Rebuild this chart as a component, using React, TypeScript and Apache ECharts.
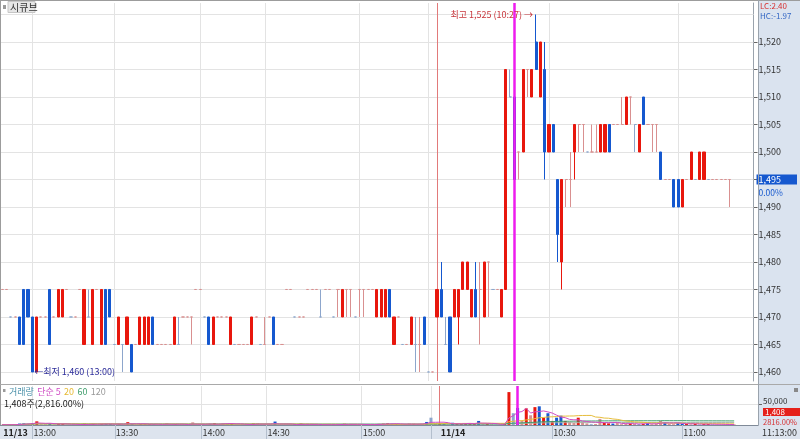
import React, { useEffect, useRef } from 'react';
import * as echarts from 'echarts';

const FONT = '"Noto Sans CJK KR", "Noto Sans", sans-serif';

// [open, close, low, high] — 11/13 session, one candle per traded minute
const day1Candles: number[][] = [
  [1475,1475,1475,1475],[1475,1475,1475,1475],[1470,1470,1470,1470],[1470,1470,1470,1470],
  [1470,1465,1465,1470],[1475,1465,1465,1475],[1475,1470,1470,1475],[1470,1460,1460,1470],
  [1460,1470,1460,1470],[1470,1470,1470,1470],[1470,1470,1470,1470],[1475,1465,1465,1475],
  [1470,1470,1470,1470],[1470,1475,1470,1475],[1470,1475,1470,1475],[1475,1475,1475,1475],
  [1470,1470,1470,1470],[1470,1470,1470,1470],[1475,1475,1475,1475],[1465,1475,1465,1475],
  [1470,1470,1470,1475],[1465,1475,1465,1475],[1475,1475,1475,1475],[1465,1475,1465,1475],
  [1475,1465,1465,1475],[1475,1470,1470,1475],[1465,1465,1465,1465],[1465,1470,1465,1470],
  [1465,1465,1460,1465],[1465,1470,1465,1470],[1465,1460,1460,1465],[1465,1465,1465,1465],
  [1465,1470,1465,1470],[1465,1470,1465,1470],[1465,1470,1465,1470],[1470,1465,1465,1470],
  [1465,1465,1465,1465],[1465,1465,1465,1465],[1465,1465,1465,1465],[1465,1465,1465,1465],
  [1465,1470,1465,1470],[1465,1465,1465,1470],[1470,1470,1470,1470],[1470,1470,1470,1470],
  [1470,1470,1465,1470],[1475,1475,1475,1475],[1475,1475,1475,1475],[1470,1470,1470,1470],
  [1470,1465,1465,1470],[1465,1470,1465,1470],[1470,1470,1470,1470],[1470,1470,1470,1470],
  [1470,1470,1470,1470],[1465,1470,1465,1470],[1465,1465,1465,1465],[1465,1465,1465,1465],
  [1465,1465,1465,1465],[1465,1465,1465,1465],[1465,1470,1465,1470],[1470,1470,1470,1470],
  [1465,1465,1465,1465],[1465,1465,1465,1470],[1470,1470,1470,1470],[1470,1465,1465,1470],
  [1465,1465,1465,1465],[1465,1465,1465,1465],[1475,1475,1475,1475],[1475,1475,1475,1475],
  [1470,1470,1470,1470],[1470,1470,1470,1470],[1470,1470,1470,1470],[1475,1475,1475,1475],
  [1475,1475,1475,1475],[1475,1475,1475,1475],[1470,1470,1470,1475],[1475,1475,1475,1475],
  [1475,1475,1475,1475],[1470,1470,1470,1470],[1475,1475,1470,1475],[1470,1475,1470,1475],
  [1475,1475,1470,1475],[1475,1475,1470,1475],[1470,1470,1470,1470],[1475,1475,1470,1475],
  [1475,1475,1470,1475],[1475,1475,1475,1475],[1475,1475,1475,1475],[1470,1475,1470,1475],
  [1470,1475,1470,1475],[1470,1475,1470,1475],[1475,1470,1470,1475],[1465,1470,1465,1470],
  [1470,1470,1470,1470],[1465,1465,1465,1465],[1465,1465,1465,1465],[1465,1470,1465,1470],
  [1465,1465,1460,1470],[1465,1465,1460,1470],[1470,1465,1465,1470],[1460,1460,1460,1460],
  [1460,1460,1460,1460],
];

// [open, close, low, high] — 11/14 session
const day2Candles: number[][] = [
  [1470,1475,1470,1475],[1475,1470,1470,1480],[1465,1465,1465,1470],[1470,1460,1460,1470],
  [1470,1475,1470,1475],[1470,1475,1465,1475],[1475,1480,1475,1480],[1475,1480,1475,1480],
  [1470,1475,1470,1475],[1475,1470,1470,1480],[1475,1475,1465,1480],[1470,1480,1470,1480],
  [1480,1480,1470,1480],[1475,1475,1475,1475],[1475,1475,1475,1475],[1470,1475,1470,1475],
  [1475,1515,1475,1515],[1510,1510,1510,1515],[1510,1495,1495,1510],[1500,1500,1495,1500],
  [1500,1515,1500,1515],[1515,1515,1510,1515],[1510,1515,1510,1515],[1520,1515,1515,1525],
  [1510,1520,1510,1520],[1515,1500,1495,1520],[1500,1505,1500,1505],[1505,1500,1500,1505],
  [1495,1485,1480,1495],[1480,1495,1475,1495],[1495,1495,1490,1495],[1495,1495,1490,1500],
  [1500,1505,1495,1505],[1505,1505,1500,1505],[1505,1505,1500,1505],[1500,1500,1500,1500],
  [1500,1500,1500,1505],[1500,1500,1500,1505],[1500,1505,1500,1505],[1500,1505,1500,1505],
  [1505,1500,1500,1505],[1505,1505,1505,1505],[1505,1505,1505,1505],[1505,1505,1505,1510],
  [1505,1510,1505,1510],[1510,1510,1505,1510],[1505,1505,1500,1505],[1500,1505,1500,1505],
  [1510,1505,1505,1510],[1505,1505,1505,1505],[1505,1505,1500,1505],[1505,1505,1500,1505],
  [1500,1495,1495,1500],[1495,1495,1495,1495],[1495,1495,1495,1495],[1495,1490,1490,1495],
  [1495,1490,1490,1495],[1490,1495,1490,1495],[1495,1495,1495,1495],[1495,1500,1495,1500],
  [1495,1495,1495,1495],[1495,1500,1495,1500],[1495,1500,1495,1500],[1495,1495,1495,1495],
  [1495,1495,1495,1495],[1495,1495,1495,1495],[1495,1495,1495,1495],[1495,1495,1495,1495],
  [1495,1495,1490,1495],
];

const day1Volumes: number[] = [
  800,600,900,700,3500,4200,3000,5200,9000,1800,1500,4000,1200,3800,3200,900,700,800,600,3600,
  1400,3000,700,2800,3300,2600,800,2400,1500,7000,2500,700,2600,2200,2400,2300,600,700,4500,800,
  2600,1200,800,700,6500,900,800,900,2800,4800,700,4200,3800,4600,800,700,600,900,4000,4500,
  800,1300,900,8500,700,800,900,700,800,4800,700,900,600,800,1200,700,900,800,1500,3200,
  1400,1300,700,1200,1400,800,700,2800,3400,4200,3000,2600,800,700,3800,2900,2200,2600,7500,18000,
  3000,
];
const day2Volumes: number[] = [
  3500,2500,1200,5500,3000,2600,5000,3500,2800,10000,2000,3500,1500,800,900,2500,81000,29000,42000,11000,
  41000,24000,44000,46000,18000,29000,10000,18000,23000,10000,8000,5000,18000,8000,4000,2000,2500,15000,5000,4000,
  3500,5000,2000,2500,4000,3000,2500,3000,4500,2000,3000,10000,7000,2500,2000,5000,3000,3500,1500,2500,
  1200,2800,2500,1500,1200,1000,1400,1100,1408,
];

const SLOT_COUNT = 175;
const gridLevels = [1460, 1465, 1470, 1475, 1480, 1485, 1490, 1495, 1500, 1505, 1510, 1515, 1520, 1525];
const priceLabels = [1460, 1465, 1470, 1475, 1480, 1485, 1490, 1495, 1500, 1505, 1510, 1515, 1520];
const gridSlots = [7, 26, 46, 61, 83, 99, 127, 157];
const labelSlots = [0, 7, 26, 46, 61, 83, 101, 127, 157];
const labelTexts = ['11/13', '13:00', '13:30', '14:00', '14:30', '15:00', '11/14', '10:30', '11:00'];
const dateLabelSlots = [0, 101];
const volumeLevels = [50000];
const maPeriods = [5, 20, 60, 120];
const daySplitSlot = 101;
const cursorSlot = 119;
const highMark = { slot: 124, value: 1525, time: '10:27' };
const lowMark = { slot: 7, value: 1460, time: '13:00' };

const RED = '#e8170d';
const BLUE = '#1558cf';
const LRED = '#d99090';
const LBLUE = '#8da6cc';
const PINK = '#e27a7a';
const MAGENTA = '#ee1cee';
const GRID = '#e3e3e3';
const MA_COLORS = ['#d04cc4', '#e6bd3c', '#3f9e6c', '#a8b4a8'];

const fmt = (v: number) => v.toLocaleString('en-US');

export default function App() {
  const ref = useRef<HTMLDivElement>(null);
  useEffect(() => {
    const el = ref.current!;
    const chart = echarts.init(el, undefined, { renderer: 'svg' });
    const candles = [...day1Candles, ...day2Candles];
    const volumes = [...day1Volumes, ...day2Volumes];
    const cats = Array.from({ length: SLOT_COUNT }, (_, i) => String(i));
    const colorOf = (i: number) => {
      const [o, c] = candles[i];
      const prev = i > 0 ? candles[i - 1][1] : c;
      if (c > o) return RED;
      if (c < o) return BLUE;
      return c >= prev ? LRED : LBLUE;
    };
    const candleData = candles.map((c, i) => {
      const col = colorOf(i);
      return { value: c, itemStyle: { color: col, color0: col, borderColor: col, borderColor0: col, borderColorDoji: col } };
    });
    const volData = volumes.map((v, i) => ({ value: v, itemStyle: { color: colorOf(i) } }));
    const ma = (n: number) => volumes.map((_, i) => {
      const s = Math.max(0, i - n + 1);
      const arr = volumes.slice(s, i + 1);
      return arr.reduce((a, b) => a + b, 0) / arr.length;
    });
    const labelMap = new Map<number, string>(labelSlots.map((s, i) => [s, labelTexts[i]]));
    const tickSet = new Set<number>([...gridSlots]);
    const lastClose = candles[candles.length - 1][1];
    const lastVol = volumes[volumes.length - 1];
    const pMin = 1458.36, pMax = 1527.09;
    const gridLineItem = (key: 'xAxis' | 'yAxis', v: number) => ({ [key]: v, lineStyle: { color: GRID, width: 1, type: 'solid' } });
    const splitItem = () => ({ xAxis: daySplitSlot, lineStyle: { color: PINK, width: 1, type: 'solid' } });
    const cursorLine = () => ({
      silent: true, symbol: ['none', 'none'], label: { show: false },
      emphasis: { disabled: true },
      data: [{ xAxis: cursorSlot, lineStyle: { color: MAGENTA, width: 2.5, type: 'solid' } }],
    });

    const option: any = {
      animation: false,
      textStyle: { fontFamily: FONT },
      grid: [
        { left: 0, right: 42, top: 3, height: 378 },
        { left: 0, right: 42, top: 386, height: 39 },
      ],
      xAxis: [
        { type: 'category', gridIndex: 0, data: cats, boundaryGap: true, show: false },
        {
          type: 'category', gridIndex: 1, data: cats, boundaryGap: true,
          axisLine: { show: true, lineStyle: { color: '#7f8a98' } },
          axisTick: { show: true, interval: (idx: number) => tickSet.has(idx), alignWithLabel: true, length: 14, lineStyle: { color: '#b4bfcd' } },
          axisLabel: {
            interval: (idx: number) => labelMap.has(idx),
            formatter: (v: string) => {
              const k = Number(v);
              const t = labelMap.get(k) ?? '';
              return dateLabelSlots.includes(k) ? `{b|${t}}` : `{n|${t}}`;
            },
            align: 'left', margin: 3, padding: [0, 0, 0, 1],
            rich: {
              b: { fontSize: 9, fontWeight: 'bold', color: '#222', fontFamily: FONT },
              n: { fontSize: 9, color: '#333', fontFamily: FONT },
            },
          },
          splitLine: { show: false },
        },
      ],
      yAxis: [
        {
          type: 'value', gridIndex: 0, position: 'right', min: pMin, max: pMax,
          axisLine: { show: true, lineStyle: { color: '#9aa3ad' } },
          axisTick: { show: true, customValues: priceLabels, length: 4, lineStyle: { color: '#666' } },
          axisLabel: { customValues: priceLabels, formatter: (v: number) => fmt(v), fontSize: 9, color: '#333', margin: 5, fontFamily: FONT },
          splitLine: { show: false },
        },
        {
          type: 'value', gridIndex: 0, position: 'right', min: pMin, max: pMax,
          axisLine: { show: false }, axisTick: { show: false }, splitLine: { show: false },
          axisLabel: {
            customValues: [lastClose], formatter: (v: number) => fmt(v), fontSize: 9, lineHeight: 10, color: '#fff',
            backgroundColor: BLUE, padding: [0, 16, 0, 2], margin: 3, fontFamily: FONT,
          },
        },
        {
          type: 'value', gridIndex: 0, position: 'right', min: pMin, max: pMax,
          axisLine: { show: false }, axisTick: { show: false }, splitLine: { show: false },
          axisLabel: {
            customValues: [lastClose], formatter: () => '0.00%', fontSize: 8.5, lineHeight: 9, color: BLUE,
            verticalAlign: 'top', padding: [8, 0, 0, 0], margin: 5, fontFamily: FONT,
          },
        },
        {
          type: 'value', gridIndex: 1, position: 'right', min: 0, max: 96000,
          axisLine: { show: true, lineStyle: { color: '#9aa3ad' } },
          axisTick: { show: true, customValues: volumeLevels, length: 4, lineStyle: { color: '#666' } },
          axisLabel: { customValues: volumeLevels, formatter: (v: number) => fmt(v), fontSize: 8, color: '#333', margin: 5, fontFamily: FONT, verticalAlign: 'bottom', lineHeight: 8 },
          splitLine: { show: false },
        },
      ],
      series: [
        {
          type: 'line', xAxisIndex: 0, yAxisIndex: 0, data: [], z: 1, silent: true,
          markLine: {
            silent: true, symbol: ['none', 'none'], z: 1, label: { show: false },
            emphasis: { disabled: true },
            data: [
              ...gridLevels.map((v) => gridLineItem('yAxis', v)),
              ...gridSlots.map((s) => gridLineItem('xAxis', s)),
              splitItem(),
            ],
          },
        },
        {
          type: 'line', xAxisIndex: 1, yAxisIndex: 3, data: [], z: 1, silent: true,
          markLine: {
            silent: true, symbol: ['none', 'none'], z: 1, label: { show: false },
            emphasis: { disabled: true },
            data: [
              ...volumeLevels.map((v) => gridLineItem('yAxis', v)),
              ...gridSlots.map((s) => gridLineItem('xAxis', s)),
              splitItem(),
            ],
          },
        },
        {
          type: 'candlestick', xAxisIndex: 0, yAxisIndex: 0, data: candleData, barWidth: 2.6, z: 3,
          itemStyle: { borderWidth: 1 },
          markLine: cursorLine(),
          markPoint: {
            silent: true, symbol: 'circle', symbolSize: 0,
            data: [
              {
                coord: [highMark.slot, highMark.value],
                label: { show: true, position: 'left', distance: 3, formatter: `최고 ${fmt(highMark.value)} (${highMark.time}) →`, color: '#c8363c', fontSize: 9, fontFamily: FONT },
              },
              {
                coord: [lowMark.slot, lowMark.value],
                label: { show: true, position: 'right', distance: 2, formatter: `←최저 ${fmt(lowMark.value)} (${lowMark.time})`, color: '#2d2d9a', fontSize: 9, fontFamily: FONT },
              },
            ],
          },
        },
        {
          type: 'bar', xAxisIndex: 1, yAxisIndex: 3, data: volData, barWidth: 3, z: 2,
          markLine: cursorLine(),
        },
        ...maPeriods.map((n, k) => ({
          type: 'line', xAxisIndex: 1, yAxisIndex: 3, data: ma(n), showSymbol: false, symbol: 'none', z: 4 - k * 0.1,
          lineStyle: { color: MA_COLORS[k], width: 1 }, silent: true,
        })),
      ],
      graphic: [
        { type: 'rect', z: -1, shape: { x: 758, y: 0, width: 42, height: 425 }, style: { fill: '#dae3ef' } },
        { type: 'rect', z: -1, shape: { x: 0, y: 425, width: 800, height: 14 }, style: { fill: '#dde4ee' } },
        { type: 'line', z: 10, shape: { x1: 0, y1: 0.5, x2: 800, y2: 0.5 }, style: { stroke: '#9c9c9c', lineWidth: 1 } },
        { type: 'line', z: 10, shape: { x1: 0.5, y1: 0, x2: 0.5, y2: 425 }, style: { stroke: '#9c9c9c', lineWidth: 1 } },
        { type: 'line', z: 10, shape: { x1: 0, y1: 384.5, x2: 800, y2: 384.5 }, style: { stroke: '#a9a9a9', lineWidth: 1 } },
        { type: 'line', z: 10, shape: { x1: 758.5, y1: 0, x2: 758.5, y2: 425 }, style: { stroke: '#9aa3ad', lineWidth: 1 } },
        { type: 'rect', z: 10, shape: { x: 3, y: 5, width: 3, height: 4 }, style: { fill: '#9a9a9a' } },
        { type: 'rect', z: 10, shape: { x: 8, y: 1.5, width: 27, height: 11 }, style: { fill: '#e6e6e6', stroke: '#c6c6c6', lineWidth: 1 } },
        { type: 'text', z: 11, x: 10, y: 1.5, style: { text: '시큐브', fill: '#333', font: `10px ${FONT}` } },
        { type: 'text', z: 11, x: 760, y: 1.5, style: { text: 'LC:2.40', fill: '#d83030', font: `8px ${FONT}` } },
        { type: 'text', z: 11, x: 760, y: 11.5, style: { text: 'HC:-1.97', fill: '#3467c4', font: `8px ${FONT}` } },
        { type: 'rect', z: 11, shape: { x: 3, y: 389, width: 2.5, height: 3 }, style: { fill: '#9a9a9a' } },
        {
          type: 'text', z: 11, x: 9, y: 385.5,
          style: {
            text: '{v|거래량} {m5|단순 5} {m20|20} {m60|60} {m120|120}',
            rich: {
              v: { fill: '#4e93ab', fontSize: 9, lineHeight: 10, fontFamily: FONT },
              m5: { fill: '#d04cc4', fontSize: 9, lineHeight: 10, fontFamily: FONT },
              m20: { fill: '#e6b930', fontSize: 9, lineHeight: 10, fontFamily: FONT },
              m60: { fill: '#3f9e6c', fontSize: 9, lineHeight: 10, fontFamily: FONT },
              m120: { fill: '#999', fontSize: 9, lineHeight: 10, fontFamily: FONT },
            },
          },
        },
        { type: 'text', z: 11, x: 4, y: 399, style: { text: `${fmt(lastVol)}주(2,816.00%)`, fill: '#222', font: `9px ${FONT}` } },
        { type: 'rect', z: 11, shape: { x: 763, y: 408, width: 37, height: 8 }, style: { fill: '#e5201a' } },
        { type: 'text', z: 12, x: 765, y: 407.5, style: { text: fmt(lastVol), fill: '#fff', font: `8px ${FONT}` } },
        { type: 'text', z: 12, x: 763, y: 418, style: { text: '2816.00%', fill: '#d83030', font: `7.5px ${FONT}` } },
        { type: 'rect', z: 11, shape: { x: 794, y: 388, width: 4, height: 4 }, style: { fill: '#888' } },
        { type: 'text', z: 11, x: 762, y: 428, style: { text: '11:13:00', fill: '#333', font: `9px ${FONT}` } },
      ],
    };
    chart.setOption(option);
    return () => chart.dispose();
  }, []);
  return <div ref={ref} style={{ position: 'fixed', left: 0, top: 0, width: 800, height: 439 }} />;
}
